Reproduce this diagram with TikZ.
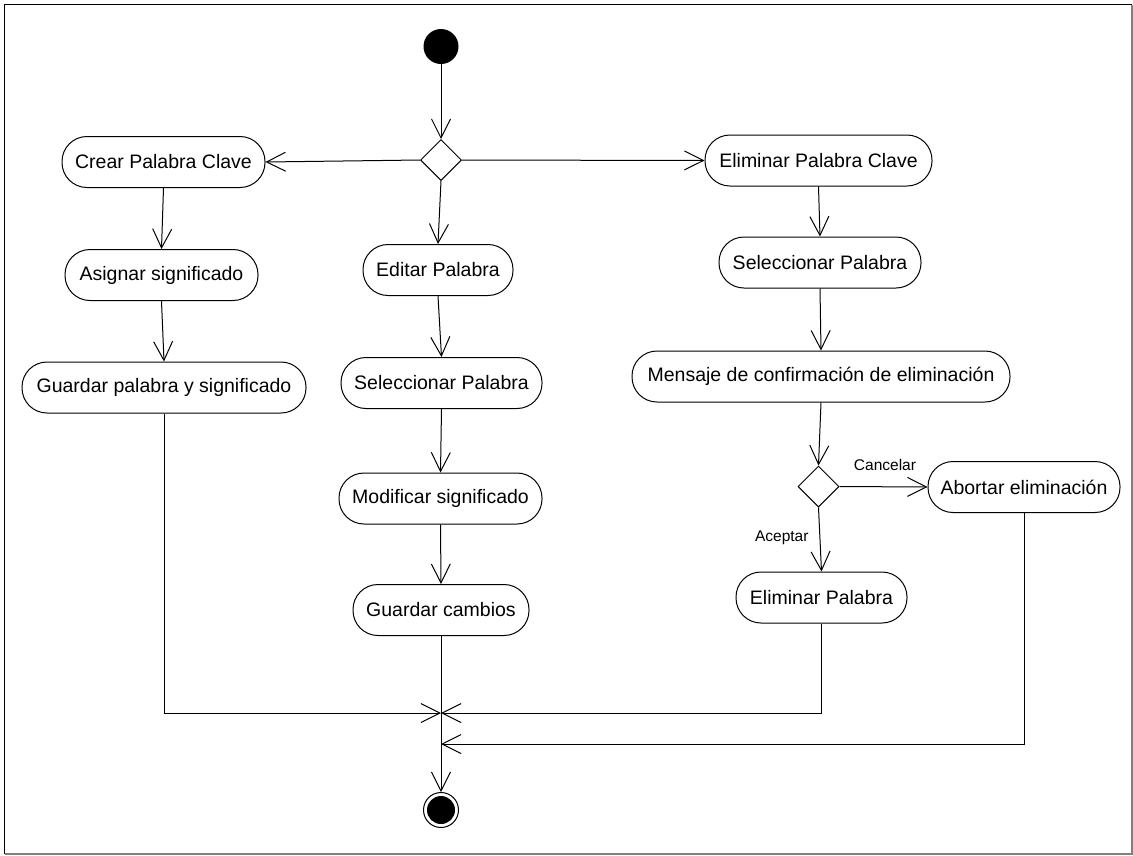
\documentclass[tikz,border=0pt]{standalone}
\usepackage{fontspec}
\setmainfont{Liberation Sans}
\usetikzlibrary{arrows.meta,shapes.geometric}
\begin{document}
\begin{tikzpicture}[x=1pt,y=-1pt,
  action/.style={draw, line width=1pt, rounded corners=25pt, minimum height=51pt,
    inner sep=0pt, fill=white, font=\fontsize{19.5}{23}\selectfont},
  decision/.style={draw, diamond, line width=1pt, minimum width=41pt,
    minimum height=41pt, inner sep=0pt, fill=white},
  flow/.style={draw, line width=1pt, -{Straight Barb[length=19pt,width=19pt,line width=1pt]}},
  guard/.style={font=\fontsize{15.5}{18}\selectfont}]
\useasboundingbox (0,0) rectangle (1133,855);

% frame
\draw[line width=1.5pt] (4.5,854) -- (4.5,4.5) -- (1132,4.5);
\draw[gray, line width=1.5pt] (4.5,854) -- (1132,854) -- (1132,4.5);

% initial node and first decision
\node (start) [circle, fill=black, minimum size=35pt, inner sep=0pt] at (441,46.5) {};
\node (d1) [decision] at (441,160) {};

% left branch
\node (crear)    [action, minimum width=203pt] at (163.5,162) {Crear Palabra Clave};
\node (asignar)  [action, minimum width=193pt] at (161.5,275) {Asignar significado};
\node (guardarP) [action, minimum width=284pt] at (164,387.5) {Guardar palabra y significado};

% middle branch
\node (editar)   [action, minimum width=150pt] at (438,270) {Editar Palabra};
\node (selA)     [action, minimum width=201pt] at (441.5,383) {Seleccionar Palabra};
\node (modif)    [action, minimum width=203pt] at (440.5,498.5) {Modificar significado};
\node (guardarC) [action, minimum width=176pt] at (441,610) {Guardar cambios};

% right branch
\node (elimC)    [action, minimum width=227pt] at (818.5,160.5) {Eliminar Palabra Clave};
\node (selB)     [action, minimum width=202pt] at (820,262.5) {Seleccionar Palabra};
\node (mensaje)  [action, minimum width=378pt] at (821,376.5) {Mensaje de confirmación de eliminación};
\node (d2) [decision] at (818.5,486.5) {};
\node (abortar)  [action, minimum width=192pt] at (1024,487) {Abortar eliminación};
\node (elimP)    [action, minimum width=171pt] at (821.5,597.5) {Eliminar Palabra};

% guards
\node (cancelar) [guard] at (885,465) {Cancelar};
\node (aceptar)  [guard, anchor=east] at (812,538) {Aceptar};

% final node and merge points
\node (end) [circle, draw, line width=1pt, minimum size=35pt, inner sep=0pt,
  path picture={\fill (path picture bounding box.center) circle (14pt);}] at (441,810) {};
\coordinate (j1) at (441,713);
\coordinate (j2) at (441,744);

% flows
\draw[flow] (start) -- (d1.north);
\draw[flow] (d1.west) -- (crear.east);
\draw[flow] (d1.east) -- (elimC.west);
\draw[flow] (d1.south) -- (editar.north);

\draw[flow] (crear.south) -- (asignar.north);
\draw[flow] (asignar.south) -- (guardarP.north);

\draw[flow] (editar.south) -- (selA.north);
\draw[flow] (selA.south) -- (modif.north);
\draw[flow] (modif.south) -- (guardarC.north);

\draw[flow] (elimC.south) -- (selB.north);
\draw[flow] (selB.south) -- (mensaje.north);
\draw[flow] (mensaje.south) -- (d2.north);
\draw[flow] (d2.east) -- (abortar.west);
\draw[flow] (d2.south) -- (elimP.north);

\draw[flow] (guardarP.south) |- (j1);
\draw[flow] (elimP.south) |- (j1);
\draw[flow] (abortar.south) |- (j2);
\draw[flow] (guardarC.south) -- (end.north);
\end{tikzpicture}
\end{document}
